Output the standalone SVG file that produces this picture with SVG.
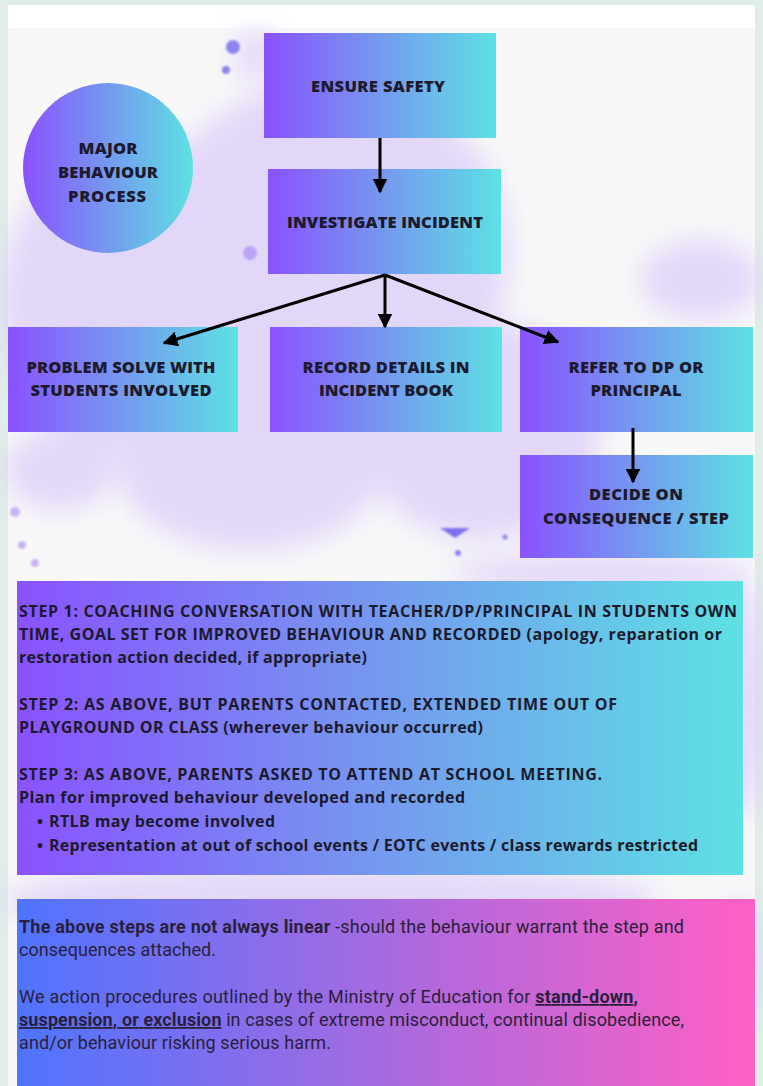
<svg xmlns="http://www.w3.org/2000/svg" width="763" height="1086" viewBox="0 0 763 1086">
<defs>
<linearGradient id="g" x1="0" y1="0" x2="1" y2="0">
<stop offset="0" stop-color="#8a52ff"/>
<stop offset="0.5" stop-color="#7599ef"/>
<stop offset="1" stop-color="#5de1e4"/>
</linearGradient>
<linearGradient id="gp" x1="0" y1="0" x2="1" y2="0">
<stop offset="0" stop-color="#4f74ff"/>
<stop offset="0.5" stop-color="#a76ae0"/>
<stop offset="1" stop-color="#ff60c4"/>
</linearGradient>
<filter id="blur" x="-20%" y="-20%" width="140%" height="140%"><feGaussianBlur stdDeviation="14"/></filter>
<filter id="blur2"><feGaussianBlur stdDeviation="1"/></filter>
<marker id="ah" viewBox="0 0 10 10" refX="9" refY="5" markerWidth="5" markerHeight="5" orient="auto" markerUnits="strokeWidth">
<path d="M0,0 L10,5 L0,10 z" fill="#000"/>
</marker>
</defs>
<style>
.box{fill:url(#g);}
.h{font-family:"Open Sans","Liberation Sans",sans-serif;font-weight:800;font-size:16.5px;fill:#1c1a2c;text-anchor:middle;}
.s{font-family:"Open Sans","Liberation Sans",sans-serif;font-weight:700;font-size:16px;fill:#1c1a2c;}
.b{font-family:Roboto,"Liberation Sans",sans-serif;font-size:18px;fill:#2a1f3a;}
.bb{font-weight:700;}
.c{stroke:#000;stroke-width:3;fill:none;marker-end:url(#ah);}
</style>
<rect x="0" y="0" width="763" height="1086" fill="#dfeee8"/>
<rect x="8" y="5" width="747" height="1081" fill="#ffffff"/>
<rect x="8" y="28" width="747" height="1058" fill="#f8f8f8"/>
<g id="watercolor" filter="url(#blur)" fill="#dcccfa" opacity="0.75">
<ellipse cx="150" cy="300" rx="150" ry="160"/>
<ellipse cx="330" cy="250" rx="180" ry="170"/>
<ellipse cx="480" cy="430" rx="120" ry="110"/>
<ellipse cx="250" cy="470" rx="130" ry="80"/>
<ellipse cx="60" cy="470" rx="55" ry="40"/>
<ellipse cx="700" cy="280" rx="60" ry="40"/>
<ellipse cx="255" cy="55" rx="20" ry="25"/>
<ellipse cx="330" cy="900" rx="330" ry="35"/>
<ellipse cx="600" cy="575" rx="150" ry="20"/>
<ellipse cx="740" cy="700" rx="25" ry="120"/>
<ellipse cx="740" cy="960" rx="20" ry="60"/>
</g>
<g id="dots" fill="#8c84ef" filter="url(#blur2)">
<circle cx="233" cy="47" r="7"/>
<circle cx="226" cy="70" r="4"/>
<circle cx="458" cy="553" r="3"/>
<circle cx="505" cy="537" r="2.5"/>
<path d="M440,528 L470,528 L455,538 z" fill="#8070ee"/>
<circle cx="15" cy="512" r="5" fill="#c9b3f5"/>
<circle cx="22" cy="545" r="4" fill="#c9b3f5"/>
<circle cx="35" cy="563" r="4" fill="#c9b3f5"/>
<circle cx="250" cy="253" r="7" fill="#b9a3f5"/>
</g>
<g id="major-behaviour-process">
<circle cx="108" cy="168" r="85" fill="url(#g)"/>
<text class="h" x="108" y="154" textLength="59">MAJOR</text>
<text class="h" x="108" y="178" textLength="100">BEHAVIOUR</text>
<text class="h" x="107" y="202" textLength="78">PROCESS</text>
</g>
<g id="ensure-safety">
<rect class="box" x="264" y="33" width="232" height="105"/>
<text class="h" x="378" y="92" textLength="134">ENSURE SAFETY</text>
</g>
<g id="investigate-incident">
<rect class="box" x="268" y="169" width="233" height="105"/>
<text class="h" x="385" y="228" textLength="196">INVESTIGATE INCIDENT</text>
</g>
<g id="problem-solve">
<rect class="box" x="8" y="327" width="230" height="105"/>
<text class="h" x="121" y="373" textLength="189">PROBLEM SOLVE WITH</text>
<text class="h" x="121" y="396" textLength="181">STUDENTS INVOLVED</text>
</g>
<g id="record-details">
<rect class="box" x="270" y="327" width="232" height="105"/>
<text class="h" x="386" y="373" textLength="167">RECORD DETAILS IN</text>
<text class="h" x="386" y="396" textLength="134">INCIDENT BOOK</text>
</g>
<g id="refer-to-dp">
<rect class="box" x="520" y="327" width="233" height="105"/>
<text class="h" x="636" y="373" textLength="135">REFER TO DP OR</text>
<text class="h" x="636" y="396" textLength="91">PRINCIPAL</text>
</g>
<g id="decide-on-consequence">
<rect class="box" x="520" y="455" width="233" height="103"/>
<text class="h" x="636" y="500" textLength="94">DECIDE ON</text>
<text class="h" x="636" y="524" textLength="186">CONSEQUENCE / STEP</text>
</g>
<g id="steps">
<rect class="box" x="17" y="581" width="726" height="294"/>
<text class="s" x="19" y="617" textLength="718">STEP 1: COACHING CONVERSATION WITH TEACHER/DP/PRINCIPAL IN STUDENTS OWN</text>
<text class="s" x="19" y="640" textLength="703">TIME, GOAL SET FOR IMPROVED BEHAVIOUR AND RECORDED (apology, reparation or</text>
<text class="s" x="19" y="663" textLength="348">restoration action decided, if appropriate)</text>
<text class="s" x="19" y="710" textLength="598">STEP 2: AS ABOVE,  BUT PARENTS CONTACTED, EXTENDED TIME OUT OF</text>
<text class="s" x="19" y="733" textLength="464">PLAYGROUND OR CLASS (wherever behaviour occurred)</text>
<text class="s" x="19" y="780" textLength="583">STEP 3: AS ABOVE, PARENTS ASKED TO ATTEND AT SCHOOL MEETING.</text>
<text class="s" x="19" y="803" textLength="446">Plan for improved  behaviour developed and recorded</text>
<text class="s" x="37" y="827">•</text>
<text class="s" x="49" y="827" textLength="226">RTLB may become involved</text>
<text class="s" x="37" y="851">•</text>
<text class="s" x="49" y="851" textLength="649">Representation at out of school events / EOTC events / class rewards restricted</text>
</g>
<g id="note">
<rect x="17" y="899" width="738" height="187" fill="url(#gp)"/>
<text class="b" x="19" y="933" textLength="665"><tspan class="bb">The above steps are not always linear </tspan>-should the behaviour warrant the step and</text>
<text class="b" x="19" y="956" textLength="197">consequences attached.</text>
<text class="b" x="19" y="1003" textLength="619">We action procedures outlined by the Ministry of Education for <tspan class="bb" text-decoration="underline">stand-down,</tspan></text>
<text class="b" x="19" y="1026" textLength="665"><tspan class="bb" text-decoration="underline">suspension, or exclusion</tspan> in cases of extreme misconduct, continual disobedience,</text>
<text class="b" x="19" y="1049" textLength="312">and/or behaviour risking serious harm.</text>
</g>
<g id="connectors">
<line class="c" x1="380" y1="138" x2="380" y2="192"/>
<line class="c" x1="385" y1="275" x2="385" y2="327"/>
<line class="c" x1="385" y1="275" x2="164" y2="343"/>
<line class="c" x1="385" y1="275" x2="558" y2="342"/>
<line class="c" x1="633" y1="428" x2="633" y2="482"/>
</g>
</svg>
